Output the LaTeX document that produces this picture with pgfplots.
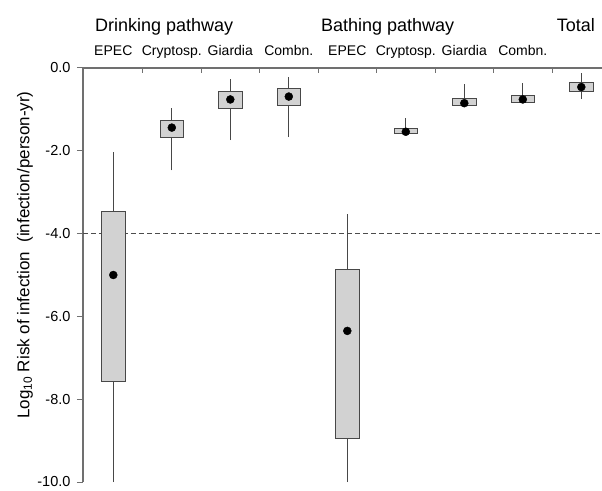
\documentclass[border=0pt]{standalone}
\usepackage{fontspec}
\setmainfont{Liberation Sans}
\usepackage{pgfplots}
\pgfplotsset{compat=1.18}
\definecolor{boxfill}{HTML}{D2D2D2}
\definecolor{boxedge}{HTML}{484848}
\definecolor{axisgray}{HTML}{707070}
\begin{document}
\begin{tikzpicture}
\useasboundingbox (-83pt,-8pt) rectangle (519pt,482pt);
\begin{axis}[
 at={(0,0)}, anchor=south west,
 scale only axis, width=519pt, height=414pt,
 xmin=0.482, xmax=9.354, ymin=-10, ymax=0,
 axis x line=top, axis y line=left,
 axis line style={-, draw=axisgray, line width=1.1pt},
 xtick=\empty,
 ytick={-10,-8,-6,-4,-2,0}, yticklabels={-10.0,-8.0,-6.0,-4.0,-2.0,0.0},
 tick align=outside,
 major tick length=6pt,
 tick style={draw=axisgray, line width=1pt},
 tick label style={font=\fontsize{14.5}{16}\selectfont},
 yticklabel style={xshift=-3pt},
 ylabel={Log\textsubscript{10} Risk of infection\ \ (infection/person-yr)},
 ylabel style={at={(axis description cs:-0.1118,0.548)}, anchor=center, font=\fontsize{17}{20}\selectfont},
 clip=false,
 unbounded coords=jump,
]
% top axis tick marks (between categories)
\addplot[draw=axisgray, line width=1pt] coordinates {
(1.5,0) (1.5,-0.13) (1.5,nan) (2.5,0) (2.5,-0.13) (2.5,nan)
(3.5,0) (3.5,-0.13) (3.5,nan) (4.5,0) (4.5,-0.13) (4.5,nan)
(5.5,0) (5.5,-0.13) (5.5,nan) (6.5,0) (6.5,-0.13) (6.5,nan)
(7.5,0) (7.5,-0.13) (7.5,nan) (8.5,0) (8.5,-0.13)};
\addplot[dashed, dash pattern=on 5pt off 3pt, draw=black!70, line width=1pt] coordinates {(0.482,-4) (9.354,-4)};
% whiskers
\addplot[draw=boxedge, line width=0.9pt] coordinates {
(1,-10) (1,-7.56) (1,nan) (1,-3.47) (1,-2.02) (1,nan)
(2,-2.47) (2,-1.68) (2,nan) (2,-1.27) (2,-0.97) (2,nan)
(3,-1.74) (3,-0.98) (3,nan) (3,-0.57) (3,-0.26) (3,nan)
(4,-1.67) (4,-0.90) (4,nan) (4,-0.50) (4,-0.22) (4,nan)
(5,-10) (5,-8.95) (5,nan) (5,-4.86) (5,-3.52) (5,nan)
(6,-1.62) (6,-1.59) (6,nan) (6,-1.47) (6,-1.21) (6,nan)
(7,-0.93) (7,-0.91) (7,nan) (7,-0.73) (7,-0.39) (7,nan)
(8,-0.85) (8,-0.83) (8,nan) (8,-0.67) (8,-0.37) (8,nan)
(9,-0.75) (9,-0.57) (9,nan) (9,-0.34) (9,-0.12)};
% boxes (quartiles)
\addplot[fill=boxfill, draw=boxedge, line width=0.9pt] coordinates {(0.8,-7.56) (1.2,-7.56) (1.2,-3.47) (0.8,-3.47)} -- cycle;
\addplot[fill=boxfill, draw=boxedge, line width=0.9pt] coordinates {(1.8,-1.68) (2.2,-1.68) (2.2,-1.27) (1.8,-1.27)} -- cycle;
\addplot[fill=boxfill, draw=boxedge, line width=0.9pt] coordinates {(2.8,-0.98) (3.2,-0.98) (3.2,-0.57) (2.8,-0.57)} -- cycle;
\addplot[fill=boxfill, draw=boxedge, line width=0.9pt] coordinates {(3.8,-0.90) (4.2,-0.90) (4.2,-0.50) (3.8,-0.50)} -- cycle;
\addplot[fill=boxfill, draw=boxedge, line width=0.9pt] coordinates {(4.8,-8.95) (5.2,-8.95) (5.2,-4.86) (4.8,-4.86)} -- cycle;
\addplot[fill=boxfill, draw=boxedge, line width=0.9pt] coordinates {(5.8,-1.59) (6.2,-1.59) (6.2,-1.47) (5.8,-1.47)} -- cycle;
\addplot[fill=boxfill, draw=boxedge, line width=0.9pt] coordinates {(6.8,-0.91) (7.2,-0.91) (7.2,-0.73) (6.8,-0.73)} -- cycle;
\addplot[fill=boxfill, draw=boxedge, line width=0.9pt] coordinates {(7.8,-0.83) (8.2,-0.83) (8.2,-0.67) (7.8,-0.67)} -- cycle;
\addplot[fill=boxfill, draw=boxedge, line width=0.9pt] coordinates {(8.8,-0.57) (9.2,-0.57) (9.2,-0.34) (8.8,-0.34)} -- cycle;
% means
\addplot[only marks, mark=*, mark size=4pt, black] coordinates {
(1,-5.00) (2,-1.44) (3,-0.76) (4,-0.69) (5,-6.35) (6,-1.54) (7,-0.85) (8,-0.76) (9,-0.46)};
\node[anchor=base, yshift=12pt, font=\fontsize{14}{16}\selectfont] at (axis cs:1,0) {EPEC};
\node[anchor=base, yshift=12pt, font=\fontsize{14}{16}\selectfont] at (axis cs:2,0) {Cryptosp.};
\node[anchor=base, yshift=12pt, font=\fontsize{14}{16}\selectfont] at (axis cs:3,0) {Giardia};
\node[anchor=base, yshift=12pt, font=\fontsize{14}{16}\selectfont] at (axis cs:4,0) {Combn.};
\node[anchor=base, yshift=12pt, font=\fontsize{14}{16}\selectfont] at (axis cs:5,0) {EPEC};
\node[anchor=base, yshift=12pt, font=\fontsize{14}{16}\selectfont] at (axis cs:6,0) {Cryptosp.};
\node[anchor=base, yshift=12pt, font=\fontsize{14}{16}\selectfont] at (axis cs:7,0) {Giardia};
\node[anchor=base, yshift=12pt, font=\fontsize{14}{16}\selectfont] at (axis cs:8,0) {Combn.};
\node[anchor=base west, yshift=36.5pt, inner sep=0pt, font=\fontsize{18}{20}\selectfont] at (axis cs:0.687,0) {Drinking pathway};
\node[anchor=base west, yshift=36.5pt, inner sep=0pt, font=\fontsize{18}{20}\selectfont] at (axis cs:4.55,0) {Bathing pathway};
\node[anchor=base west, yshift=36.5pt, inner sep=0pt, font=\fontsize{18}{20}\selectfont] at (axis cs:8.58,0) {Total};
\end{axis}
\end{tikzpicture}
\end{document}
